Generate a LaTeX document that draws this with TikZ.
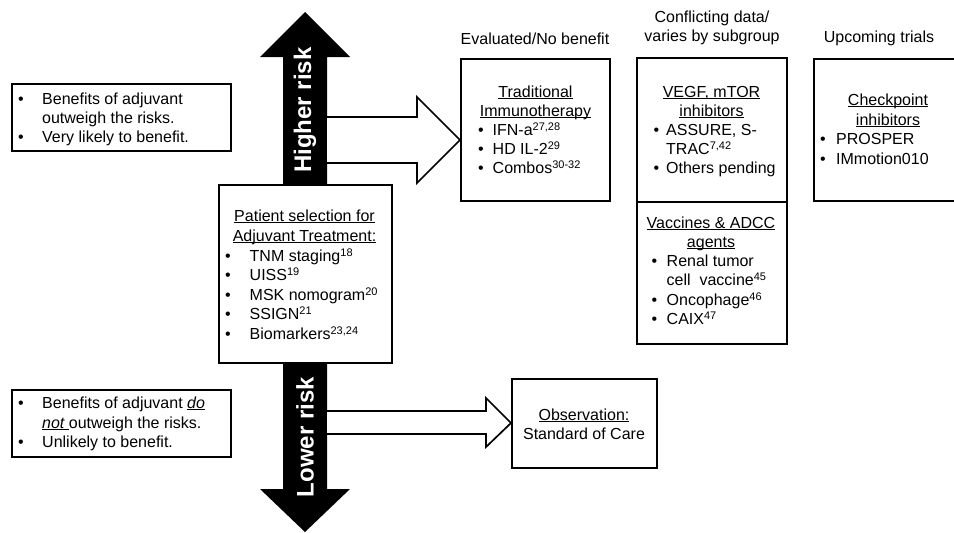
\documentclass[tikz,border=0pt]{standalone}
\usepackage{fontspec}
\setmainfont{Liberation Sans}
\newcommand{\ulx}[1]{\setbox0\hbox{#1}\rlap{\rule[-2pt]{\wd0}{0.9pt}}\box0}
\newcommand{\bul}{\textbullet}
\newcommand{\ssx}[1]{\raisebox{5pt}{\fontsize{11}{11}\selectfont #1}}
\begin{document}
\begin{tikzpicture}[x=1pt,y=-1pt,
 fbox/.style={draw, line width=1.7pt, fill=white, inner sep=0pt, anchor=north west},
 tl/.style={inner sep=0pt, anchor=base west, font=\fontsize{16}{19}\selectfont},
 tc/.style={inner sep=0pt, anchor=base, font=\fontsize{16}{19}\selectfont},
 risk/.style={text=white, font=\fontsize{24}{28}\bfseries\selectfont, rotate=90, inner sep=0pt},
 openarrow/.style={draw, line width=1.7pt, fill=white, line join=miter},
]
\clip (0,0) rectangle (954,533);
% black double arrow
\fill (305,12) -- (350,57) -- (327,57) -- (327,489) -- (350,489) -- (305,532)
      -- (260,489) -- (283,489) -- (283,57) -- (260,57) -- cycle;
\node[risk] (hi) at (305,110) {Higher risk};
\node[risk] (lo) at (305,437) {Lower risk};

% boxes
\node[fbox, minimum width=219pt, minimum height=67pt] (tlbox) at (11,83) {};
\node[fbox, minimum width=219pt, minimum height=67pt] (blbox) at (11,389) {};
\node[fbox, minimum width=173pt, minimum height=178pt] (pbox) at (218,184) {};
\node[fbox, minimum width=149pt, minimum height=142pt] (tradbox) at (460,58) {};
\node[fbox, minimum width=150pt, minimum height=144pt] (vegfbox) at (636,57) {};
\node[fbox, minimum width=150pt, minimum height=142pt] (vacbox) at (636,201) {};
\node[fbox, minimum width=150pt, minimum height=142pt] (chkbox) at (813,58) {};
\node[fbox, minimum width=145pt, minimum height=89pt] (obsbox) at (511,378) {};

% open arrows
\coordinate (uptip) at (tradbox.west |- 0,140);
\coordinate (lowtip) at (obsbox.west |- 0,423);
\draw[openarrow] (327,117) -- (417,117) -- (417,97) -- (uptip) -- (417,183) -- (417,163) -- (327,163);
\draw[openarrow] (327,411) -- (486,411) -- (486,398) -- (lowtip) -- (486,447) -- (486,434) -- (327,434);

% headers
\node[tc] (h1) at (535,44) {Evaluated/No benefit};
\node[tc] (h2a) at (712,22) {Conflicting data/};
\node[tc] (h2b) at (712,41) {varies by subgroup};
\node[tc] (h3) at (879,42) {Upcoming trials};

% top-left box
\node[tc] (a1b) at (21,104) {\bul};
\node[tl] (a1) at (42,104) {Benefits of adjuvant};
\node[tl] (a2) at (42,123) {outweigh the risks.};
\node[tc] (a3b) at (21,142) {\bul};
\node[tl] (a3) at (42,142) {Very likely to benefit.};

% bottom-left box
\node[tc] (b1b) at (21,408) {\bul};
\node[tl] (b1) at (42,408) {Benefits of adjuvant \ulx{\itshape do}};
\node[tl] (b2) at (42,428) {\ulx{\itshape not }outweigh the risks.};
\node[tc] (b3b) at (21,447) {\bul};
\node[tl] (b3) at (42,447) {Unlikely to benefit.};

% patient box
\node[tc] (p0a) at (304.5,221) {\ulx{Patient selection for}};
\node[tc] (p0b) at (304.5,241) {\ulx{Adjuvant Treatment:}};
\node[tc] (p1b) at (228,261) {\bul};
\node[tl] (p1) at (249.5,261) {TNM staging\ssx{18}};
\node[tc] (p2b) at (228,280) {\bul};
\node[tl] (p2) at (249.5,280) {UISS\ssx{19}};
\node[tc] (p3b) at (228,300) {\bul};
\node[tl] (p3) at (249.5,300) {MSK nomogram\ssx{20}};
\node[tc] (p4b) at (228,319) {\bul};
\node[tl] (p4) at (249.5,319) {SSIGN\ssx{21}};
\node[tc] (p5b) at (228,339) {\bul};
\node[tl] (p5) at (249.5,339) {Biomarkers\ssx{23,24}};

% traditional
\node[tc] (t0a) at (535.5,97) {\ulx{Traditional}};
\node[tc] (t0b) at (535.5,116) {\ulx{Immunotherapy}};
\node[tc] (t1b) at (481,135) {\bul};
\node[tl] (t1) at (492.5,135) {IFN-a\ssx{27,28}};
\node[tc] (t2b) at (481,154) {\bul};
\node[tl] (t2) at (492.5,154) {HD IL-2\ssx{29}};
\node[tc] (t3b) at (481,173) {\bul};
\node[tl] (t3) at (492.5,173) {Combos\ssx{30-32}};

% VEGF
\node[tc] (v0a) at (711.5,97) {\ulx{VEGF, mTOR}};
\node[tc] (v0b) at (711.5,116) {\ulx{inhibitors}};
\node[tc] (v1b) at (656.5,135) {\bul};
\node[tl] (v1) at (666,135) {ASSURE, S-};
\node[tl] (v1c) at (666,154) {TRAC\ssx{7,42}};
\node[tc] (v2b) at (656.5,173) {\bul};
\node[tl] (v2) at (666,173) {Others pending};

% vaccines
\node[tc] (c0a) at (711,228) {\ulx{Vaccines \& ADCC}};
\node[tc] (c0b) at (711,247) {\ulx{agents}};
\node[tc] (c1b) at (654.5,266) {\bul};
\node[tl] (c1) at (666.5,266) {Renal tumor};
\node[tl] (c1c) at (666.5,285) {cell\ \ vaccine\ssx{45}};
\node[tc] (c2b) at (654.5,305) {\bul};
\node[tl] (c2) at (666.5,305) {Oncophage\ssx{46}};
\node[tc] (c3b) at (654.5,324) {\bul};
\node[tl] (c3) at (666.5,324) {CAIX\ssx{47}};

% checkpoint
\node[tc] (k0a) at (888,105) {\ulx{Checkpoint}};
\node[tc] (k0b) at (888,125) {\ulx{inhibitors}};
\node[tc] (k1b) at (823,144) {\bul};
\node[tl] (k1) at (836,144) {PROSPER};
\node[tc] (k2b) at (823,164) {\bul};
\node[tl] (k2) at (836,164) {IMmotion010};

% observation
\node[tc] (o1) at (584,420) {\ulx{Observation:}};
\node[tc] (o2) at (584,439) {Standard of Care};
\end{tikzpicture}
\end{document}
